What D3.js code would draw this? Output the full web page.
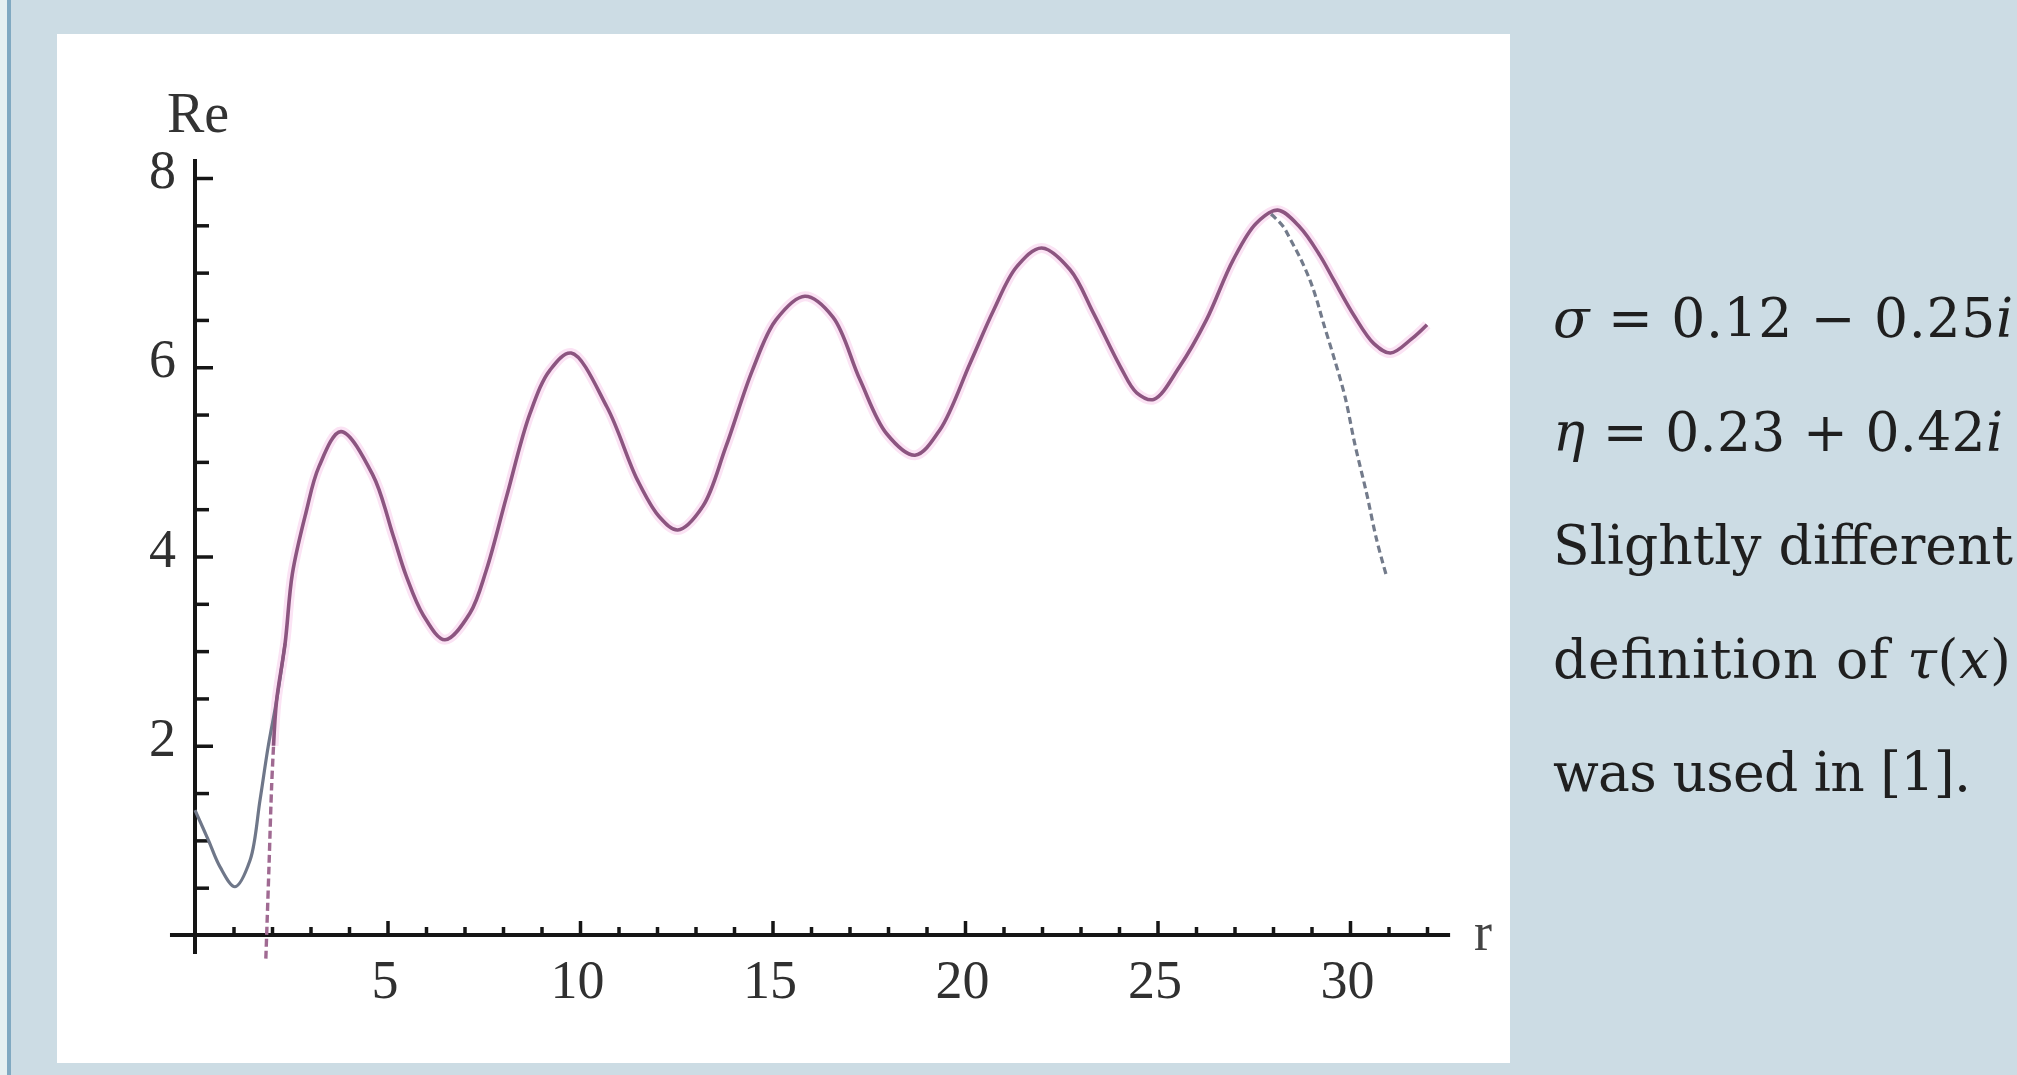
<!DOCTYPE html>
<html>
<head>
<meta charset="utf-8">
<script src="https://cdn.jsdelivr.net/npm/d3@7"></script>
<style>
  html, body { margin: 0; padding: 0; background: #ccdce4; overflow: hidden; }
  svg { display: block; }
</style>
</head>
<body>
<svg id="chart" width="2017" height="1075"></svg>
<script>
// ---------------- data ----------------
const xTickValues = [5, 10, 15, 20, 25, 30];
const yTickValues = [2, 4, 6, 8];
const xAxisExtent = [-0.65, 32.6];
const yAxisExtent = [-0.2, 8.2];
const xLabel = "r";
const yLabel = "Re";

// magenta (solid) curve
const magentaR  = [2.04, 2.12, 2.34, 2.53, 2.88, 3.22, 3.79, 4.62, 5.14, 5.49, 5.93, 6.49, 7.14, 7.57, 8.09, 8.70, 9.22, 9.77, 10.70, 11.49, 12.06, 12.54, 13.19, 13.79, 14.48, 15.09, 15.84, 16.57, 17.27, 17.96, 18.70, 19.35, 20.13, 20.74, 21.34, 21.99, 22.73, 23.34, 24.03, 24.46, 24.90, 25.58, 26.27, 26.96, 27.56, 28.12, 28.70, 29.22, 29.58, 30.10, 30.62, 31.05, 31.60, 32.00];
const magentaRe = [2.00, 2.48, 3.08, 3.82, 4.46, 4.95, 5.32, 4.86, 4.23, 3.79, 3.38, 3.12, 3.40, 3.86, 4.63, 5.51, 5.97, 6.15, 5.58, 4.81, 4.42, 4.28, 4.53, 5.16, 5.97, 6.50, 6.75, 6.53, 5.87, 5.30, 5.07, 5.34, 6.04, 6.60, 7.06, 7.26, 7.03, 6.57, 6.01, 5.73, 5.66, 6.01, 6.50, 7.13, 7.52, 7.66, 7.48, 7.18, 6.92, 6.55, 6.25, 6.15, 6.30, 6.45];
// magenta steep part near the pole (drawn dashed)
const magentaPoleR  = [1.84, 1.92, 1.99, 2.04];
const magentaPoleRe = [-0.25, 0.70, 1.57, 2.00];
// grey curve: visible start (solid) and diverging end (dashed)
const grayStartR  = [0.00, 0.35, 0.65, 1.04, 1.43, 1.69, 1.90, 2.12, 2.34];
const grayStartRe = [1.32, 1.00, 0.72, 0.51, 0.79, 1.43, 1.99, 2.48, 3.08];
const grayEndR  = [27.95, 28.26, 28.44, 28.70, 28.96, 29.13, 29.30, 29.57, 29.87, 30.13, 30.43, 30.69, 30.95];
const grayEndRe = [7.62, 7.49, 7.36, 7.16, 6.92, 6.72, 6.48, 6.12, 5.69, 5.18, 4.67, 4.18, 3.79];

// side note text (with the width each line spans in the picture)
const noteLines = [
  [{t: "σ", it: true}, {t: " = 0.12 − 0.25"}, {t: "i", it: true}],
  [{t: "η", it: true}, {t: " = 0.23 + 0.42"}, {t: "i", it: true}],
  [{t: "Slightly different"}],
  [{t: "definition of "}, {t: "τ", it: true}, {t: "("}, {t: "x", it: true}, {t: ")"}],
  [{t: "was used in [1]."}]
];
const noteWidths = [460, 450, 460, 458, 418];

// ---------------- drawing ----------------
const W = 2017, H = 1075;
const svg = d3.select("#chart");

svg.append("rect").attr("width", W).attr("height", H).attr("fill", "#ccdce4");
svg.append("rect").attr("x", 0).attr("y", 0).attr("width", 7).attr("height", H).attr("fill", "#e5f0f1");
svg.append("rect").attr("x", 7).attr("y", 0).attr("width", 4).attr("height", H).attr("fill", "#80a9c1");
svg.append("rect").attr("x", 57).attr("y", 34).attr("width", 1453).attr("height", 1029).attr("fill", "#ffffff");

const x = d3.scaleLinear().domain([0, 30]).range([195, 1350]);
const y = d3.scaleLinear().domain([0, 8]).range([935, 178]);

const axisColor = "#151515";
const tickFont = "'Liberation Serif', 'Times New Roman', serif";
const labelColor = "#303030";

const plot = svg.append("g");

// axis lines
plot.append("line")
  .attr("x1", x(xAxisExtent[0])).attr("x2", x(xAxisExtent[1]))
  .attr("y1", y(0)).attr("y2", y(0))
  .attr("stroke", axisColor).attr("stroke-width", 4);
plot.append("line")
  .attr("x1", x(0)).attr("x2", x(0))
  .attr("y1", y(yAxisExtent[0])).attr("y2", y(yAxisExtent[1]))
  .attr("stroke", axisColor).attr("stroke-width", 4);

function styleAxis(sel) {
  sel.select(".domain").remove();
  sel.selectAll(".tick line").attr("stroke", axisColor).attr("stroke-width", 3.5);
  sel.selectAll(".tick text")
    .attr("font-family", tickFont)
    .attr("font-size", 54)
    .attr("fill", labelColor);
  sel.attr("font-family", null).attr("font-size", null);
}

// x minor ticks
const xMinor = d3.ticks(0, 32, 32).filter(v => v > 0 && !xTickValues.includes(v));
plot.append("g").attr("transform", `translate(0,${y(0)})`)
  .call(d3.axisBottom(x).tickValues(xMinor).tickSize(-8).tickFormat(""))
  .call(styleAxis);
// x major ticks
plot.append("g").attr("transform", `translate(0,${y(0)})`)
  .call(d3.axisBottom(x).tickValues(xTickValues).tickSize(-14).tickPadding(25).tickFormat(d3.format("d")))
  .call(styleAxis)
  .call(s => s.selectAll(".tick text").attr("dx", -3));

// y minor ticks
const yMinor = d3.ticks(0, 8, 16).filter(v => v > 0 && !yTickValues.includes(v));
plot.append("g").attr("transform", `translate(${x(0)},0)`)
  .call(d3.axisLeft(y).tickValues(yMinor).tickSize(-14).tickFormat(""))
  .call(styleAxis);
// y major ticks
plot.append("g").attr("transform", `translate(${x(0)},0)`)
  .call(d3.axisLeft(y).tickValues(yTickValues).tickSize(-18).tickPadding(19).tickFormat(d3.format("d")))
  .call(styleAxis)
  .call(s => s.selectAll(".tick text").attr("dy", "0.18em"));

// axis labels
plot.append("text").attr("x", 167).attr("y", 132)
  .attr("font-family", tickFont).attr("font-size", 56).attr("fill", "#333")
  .text(yLabel);
plot.append("text").attr("x", 1474).attr("y", 950)
  .attr("font-family", tickFont).attr("font-size", 54).attr("fill", "#444")
  .text(xLabel);

// curves
const line = d3.line().x(d => x(d[0])).y(d => y(d[1])).curve(d3.curveCatmullRom.alpha(0.5));
const zip = (a, b) => a.map((v, i) => [v, b[i]]);

const grayStart = zip(grayStartR, grayStartRe);
const grayEnd = zip(grayEndR, grayEndRe);
const magenta = zip(magentaR, magentaRe);
const magentaPole = zip(magentaPoleR, magentaPoleRe);

// soft fringe (image blur)
plot.append("path").datum(magenta).attr("d", line)
  .attr("fill", "none").attr("stroke", "#fbe3f4").attr("stroke-width", 10)
  .attr("stroke-linejoin", "round");

plot.append("path").datum(grayStart).attr("d", line)
  .attr("fill", "none").attr("stroke", "#6f7789").attr("stroke-width", 3.2);
plot.append("path").datum(grayEnd).attr("d", line)
  .attr("fill", "none").attr("stroke", "#737b8b").attr("stroke-width", 3.2)
  .attr("stroke-dasharray", "7,4");

plot.append("path").datum(magenta).attr("d", line)
  .attr("fill", "none").attr("stroke", "#8c5580").attr("stroke-width", 3.6)
  .attr("stroke-linejoin", "round");
plot.append("path").datum(magentaPole).attr("d", line)
  .attr("fill", "none").attr("stroke", "#a06a92").attr("stroke-width", 3.4)
  .attr("stroke-dasharray", "8,4");

// side note
const noteFont = "'DejaVu Serif', serif";
const probe = svg.append("text").attr("font-family", noteFont).attr("font-size", 100).text("Slightly different");
const w100 = probe.node().getComputedTextLength();
probe.remove();
const noteSize = 100 * 460 / w100;

const note = svg.append("g");
noteLines.forEach((parts, i) => {
  const t = note.append("text")
    .attr("x", 1553)
    .attr("y", 337 + i * 113.5)
    .attr("font-family", noteFont)
    .attr("font-size", noteSize)
    .attr("fill", "#1f1f1f")
    .attr("textLength", noteWidths[i])
    .attr("lengthAdjust", "spacing");
  parts.forEach(p => {
    t.append("tspan").attr("font-style", p.it ? "italic" : null).text(p.t);
  });
});
</script>
</body>
</html>
